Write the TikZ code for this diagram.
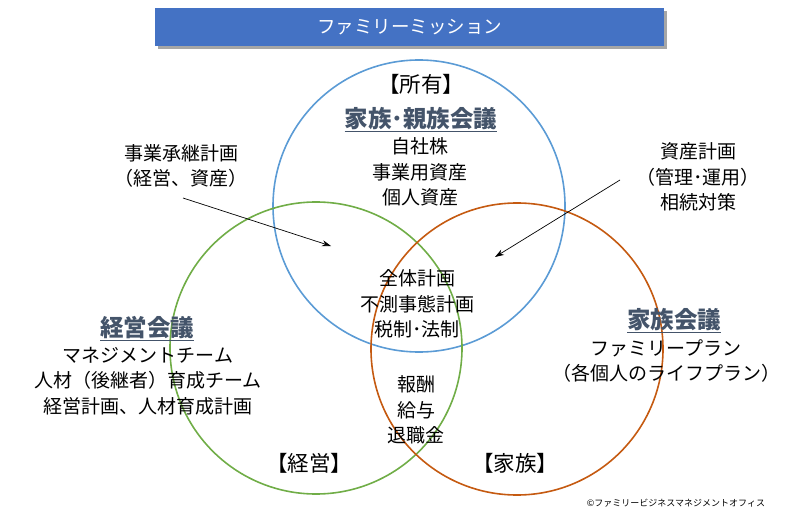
\documentclass[tikz,border=0pt]{standalone}
\usepackage{fontspec}
\setmainfont{Noto Sans CJK JP}
\usetikzlibrary{arrows.meta}
\definecolor{titleblue}{HTML}{4472C4}
\definecolor{cblue}{HTML}{5B9BD5}
\definecolor{cgreen}{HTML}{70AD47}
\definecolor{corange}{HTML}{C55A11}
\definecolor{headc}{HTML}{44546A}
\tikzset{
  ring/.style={circle, draw=#1, line width=1.6pt, minimum size=292pt, inner sep=0pt},
  txt/.style={align=center, inner sep=0pt, font=\fontsize{19}{25.5}\selectfont},
  head/.style={inner sep=0pt, text=headc, font=\fontsize{23.5}{26}\selectfont\bfseries},
  lbl/.style={inner sep=0pt, font=\fontsize{21.5}{24}\selectfont},
  arr/.style={-{Stealth[length=9pt,width=6pt]}, line width=0.7pt},
}
\begin{document}
\begin{tikzpicture}[x=1pt,y=-1pt]
\useasboundingbox (0,0) rectangle (800,516);
% title
\fill[gray!70] (158,11) rectangle (667,49);
\node[fill=titleblue, minimum width=509pt, minimum height=38pt, inner sep=0pt,
  text=white, font=\fontsize{18.5}{22}\selectfont] (title) at (409.5,27.5) {ファミリーミッション};
% circles
\node[ring=cblue] (own) at (419,206) {};
\node[ring=cgreen] (mgt) at (316,348) {};
\node[ring=corange] (fam) at (517,349) {};
% top circle
\node[lbl] (ownl) at (421,84) {【所有】};
\node[head] (ownh) at (421,120) {\underline{家族･親族会議}};
\node[txt] (ownt) at (420,172) {自社株\\事業用資産\\個人資産};
% center
\node[txt] (cent) at (417,304) {全体計画\\不測事態計画\\税制･法制};
\node[txt] (mf) at (416,410) {報酬\\給与\\退職金};
% left
\node[head] (mgth) at (147,329) {\underline{経営会議}};
\node[txt] (mgtt) at (148,381) {マネジメントチーム\\人材（後継者）育成チーム\\経営計画、人材育成計画};
% right
\node[head] (famh) at (674,321) {\underline{家族会議}};
\node[txt] (famt) at (666,361) {ファミリープラン\\（各個人のライフプラン）};
% bottom labels
\node[lbl] (mgtl) at (309,463) {【経営】};
\node[lbl] (faml) at (515,463) {【家族】};
% callouts
\node[txt] (succ) at (181,166) {事業承継計画\\（経営、資産）};
\node[txt] (asset) at (698,177) {資産計画\\（管理･運用）\\相続対策};
\coordinate (a1s) at (183,198);
\coordinate (a1e) at (331,246);
\coordinate (a2s) at (620,180);
\coordinate (a2e) at (495,257);
\draw[arr] (a1s) -- (a1e);
\draw[arr] (a2s) -- (a2e);
% copyright
\node[inner sep=0pt, font=\fontsize{9}{11}\selectfont] (copy) at (676,503) {©ファミリービジネスマネジメントオフィス};
\end{tikzpicture}
\end{document}
